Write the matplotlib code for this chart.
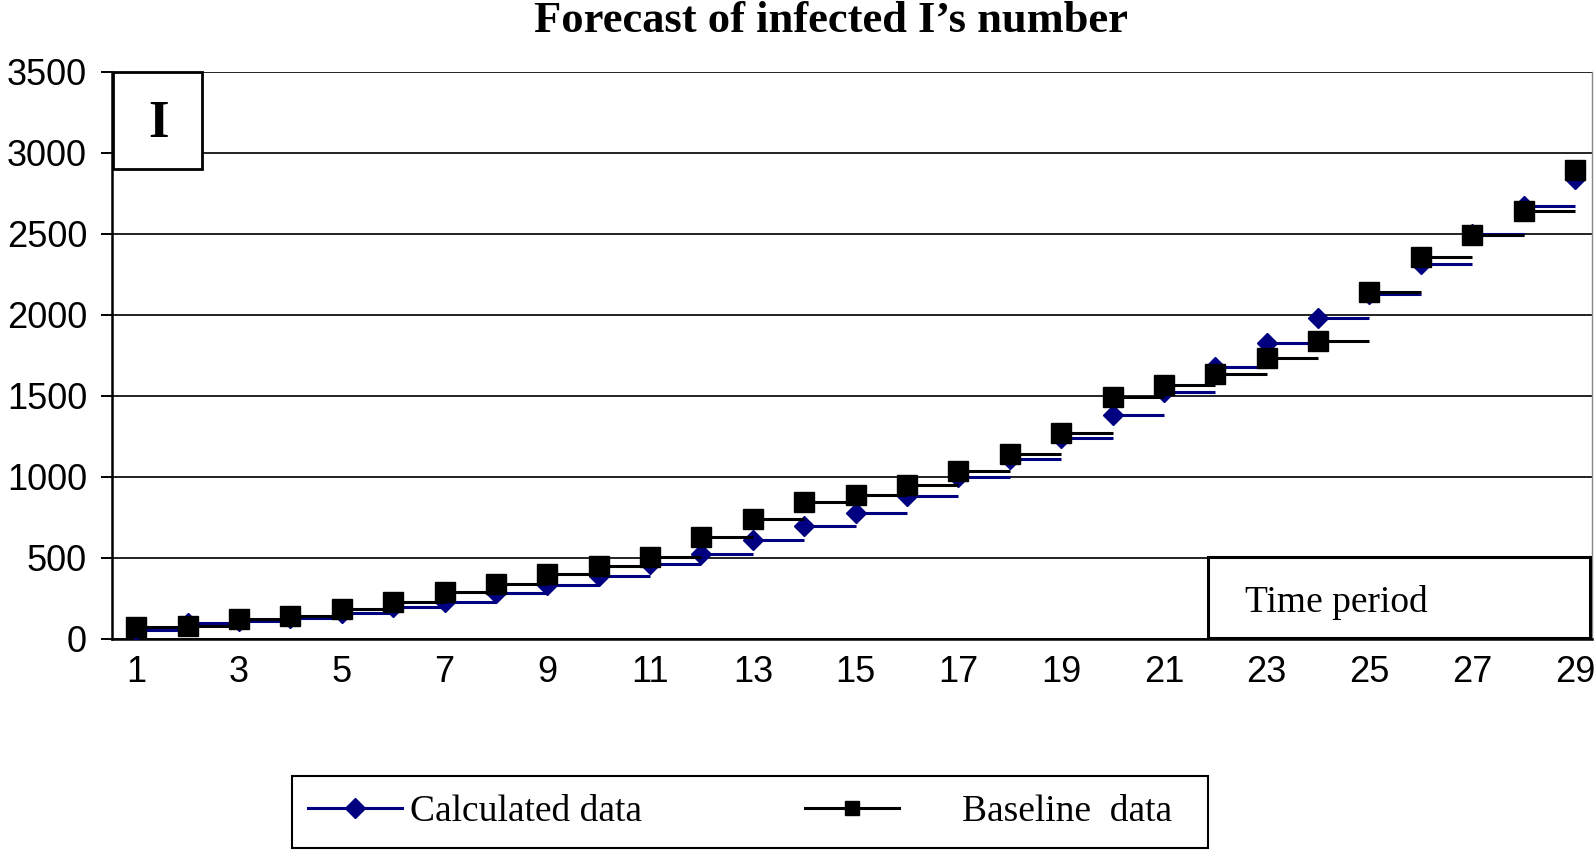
import numpy as np
import matplotlib.pyplot as plt
from matplotlib.lines import Line2D
from matplotlib.patches import Rectangle

# time periods and the two series
periods = np.arange(1, 30)
calculated = [55, 95, 110, 128, 160, 195, 225, 280, 330, 385,
              460, 520, 610, 693, 774, 878, 1000, 1110, 1240, 1383,
              1520, 1675, 1825, 1980, 2125, 2310, 2500, 2670, 2835]
baseline = [70, 75, 120, 140, 180, 225, 288, 335, 396, 445,
            505, 628, 735, 842, 884, 945, 1035, 1140, 1268, 1490,
            1565, 1635, 1735, 1840, 2140, 2355, 2490, 2640, 2895]
yticks = np.arange(0, 3501, 500)
xticks = np.arange(1, 30, 2)

calc_col = '#000080'
base_col = 'black'
serif = 'Liberation Serif'
sans = 'Liberation Sans'

fig = plt.figure(figsize=(15.94, 8.51), dpi=100)
ax = fig.add_axes([0.0703, 0.2497, 0.9284, 0.6660])

# step segments (each value held until the next period, no risers)
ax.hlines(calculated[:-1], periods[:-1], periods[1:], color=calc_col, lw=2.2, zorder=3)
ax.plot(periods, calculated, ls='none', marker='D', ms=10.5, color=calc_col, zorder=4)
ax.hlines(baseline[:-1], periods[:-1], periods[1:], color=base_col, lw=2.2, zorder=5)
ax.plot(periods, baseline, ls='none', marker='s', ms=14, color=base_col, zorder=6)

ax.set_xlim(0.53, 29.33)
ax.set_ylim(0, 3500)
ax.set_yticks(yticks)
ax.set_xticks(xticks)
ax.grid(axis='y', color='#222222', lw=1.4, zorder=1)
ax.set_axisbelow(True)
for lab in ax.get_yticklabels() + ax.get_xticklabels():
    lab.set_fontfamily(sans)
    lab.set_fontsize(26)
ax.tick_params(axis='y', length=8, width=1.4, pad=10, direction='out')
ax.tick_params(axis='x', length=0, pad=12)
ax.spines['top'].set_visible(False)
ax.spines['right'].set_color('#888888')
ax.spines['right'].set_linewidth(1)
ax.spines['left'].set_linewidth(1.8)
ax.spines['bottom'].set_linewidth(1.8)

fig.text(0.5213, 0.9627, 'Forecast of infected I\u2019s number', ha='center', va='baseline',
         family=serif, fontweight='bold', fontsize=32)

# "I" label box
fig.add_artist(Rectangle((0.0709, 0.8014), 0.0558, 0.1140, transform=fig.transFigure,
                         facecolor='white', edgecolor='black', lw=2, zorder=10))
fig.text(0.0997, 0.8543, 'I', ha='center', va='center', family=serif,
         fontweight='bold', fontsize=38, zorder=11)

# "Time period" box
fig.add_artist(Rectangle((0.7578, 0.2503), 0.2396, 0.0952, transform=fig.transFigure,
                         facecolor='white', edgecolor='black', lw=2.2, zorder=10))
fig.text(0.781, 0.2808, 'Time period', ha='left', va='baseline', family=serif,
         fontsize=27, zorder=11)

# legend box with two entries
fig.add_artist(Rectangle((0.1832, 0.0035), 0.5746, 0.0846, transform=fig.transFigure,
                         facecolor='white', edgecolor='black', lw=1.5, zorder=10))
h_calc = Line2D([], [], color=calc_col, lw=2.2, marker='D', ms=10.5)
h_base = Line2D([], [], color=base_col, lw=2.2, marker='s', ms=10)
leg1 = fig.legend([h_calc], ['Calculated data'], loc='center left',
                  bbox_to_anchor=(0.1935, 0.046), frameon=False, borderpad=0,
                  borderaxespad=0, handlelength=2.5, handletextpad=0.2,
                  prop={'family': serif, 'size': 27})
leg2 = fig.legend([h_base], ['Baseline  data'], loc='center left',
                  bbox_to_anchor=(0.505, 0.046), frameon=False, borderpad=0,
                  borderaxespad=0, handlelength=2.5, handletextpad=1.7,
                  prop={'family': serif, 'size': 27})
leg1.set_zorder(12)
leg2.set_zorder(12)

fig.savefig('out.png', dpi=100, facecolor='white')
